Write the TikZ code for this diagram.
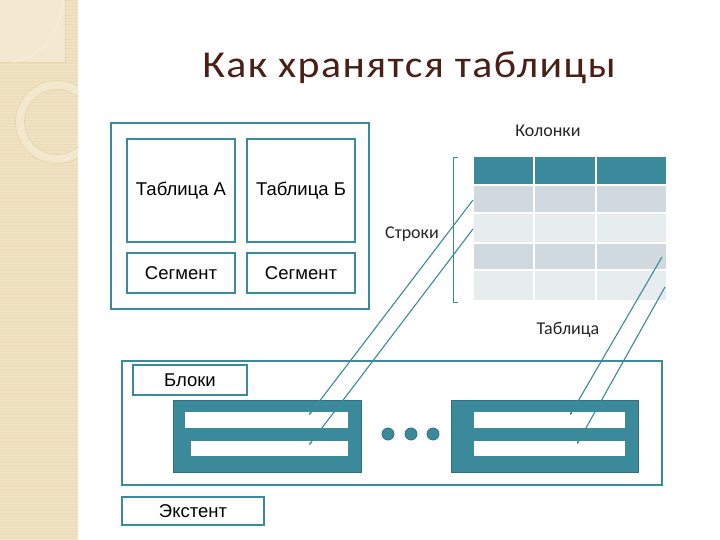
\documentclass[tikz,border=0pt]{standalone}
\usepackage{fontspec}
\setmainfont{Carlito}
\newfontfamily\arialf{Liberation Sans}
\newfontfamily\titlef[LetterSpace=3.5]{Carlito}
\usetikzlibrary{arrows.meta}
\definecolor{teal1}{HTML}{3B8A9C}
\definecolor{tealdark}{HTML}{2F7284}
\definecolor{beige}{HTML}{EFE3C3}
\definecolor{beigelight}{HTML}{F5ECD6}
\definecolor{beigeedge}{HTML}{E4D5AE}
\definecolor{titlec}{HTML}{4A1F16}
\definecolor{rowdark}{HTML}{CFD9DF}
\definecolor{rowlight}{HTML}{E7ECEF}
\tikzset{
  frame/.style={draw=teal1, line width=1.6pt, fill=white, inner sep=0pt},
  lbl/.style={font=\arialf\fontsize{18.5}{20}\selectfont, text=black},
  note/.style={font=\fontsize{18}{20}\selectfont, text=black!85},
  blk/.style={draw=tealdark, line width=1pt, fill=teal1},
  strip/.style={fill=white, draw=none},
  link/.style={draw=teal1, line width=1.1pt, -{Stealth[length=3pt,width=2.5pt]}},
  dotc/.style={circle, fill=teal1, draw=tealdark, line width=0.8pt, minimum size=12pt, inner sep=0pt}
}
\begin{document}
\begin{tikzpicture}[x=1pt,y=-1pt]
\useasboundingbox (0,0) rectangle (720,540);
\fill[white] (0,0) rectangle (720,540);
% left decorative strip
\fill[beige] (0,0) rectangle (78,540);
\foreach \yy in {0,3,...,540} {\draw[beigeedge!50!beige, line width=0.6pt] (0,\yy) -- (78,\yy);}
\fill[beigelight!70!beige] (0,0) rectangle (65,62);
\draw[beigeedge, line width=0.8pt] (0,62) -- (65,62) -- (65,0);
\draw[white!40!beige, line width=1.2pt] (63,0) .. controls (60,35) and (40,58) .. (13,62);
\begin{scope}
\clip (0,0) rectangle (78,540);
\draw[beigelight!55!beige, line width=9pt] (57,122) circle (37);
\draw[beigeedge, line width=0.7pt] (57,122) circle (41.5);
\draw[beigeedge, line width=0.7pt] (57,122) circle (32.5);
\end{scope}
% title
\node[font=\titlef\fontsize{38}{40}\selectfont, text=titlec] (title) at (409,68) {\scalebox{1.1}[1]{Как хранятся таблицы}};
% upper left frame
\node[frame, minimum width=258pt, minimum height=186pt] (outer) at (240,216) {};
\node[frame, minimum width=108pt, minimum height=103pt, lbl] (ta) at (181,190.5) {Таблица А};
\node[frame, minimum width=108pt, minimum height=103pt, lbl] (tb) at (301,190.5) {Таблица Б};
\node[frame, minimum width=108pt, minimum height=40pt, lbl] (sa) at (181,273) {Сегмент};
\node[frame, minimum width=108pt, minimum height=40pt, lbl] (sb) at (301,273) {Сегмент};
% table graphic
\fill[teal1] (474,157) rectangle (666,184);
\fill[rowdark] (474,186) rectangle (666,213);
\fill[rowlight] (474,213) rectangle (666,243);
\fill[rowdark] (474,243) rectangle (666,270);
\fill[rowlight] (474,270) rectangle (666,300);
\draw[white, line width=1.2pt] (474,213) -- (666,213) (474,243) -- (666,243) (474,270) -- (666,270);
\draw[white, line width=1.5pt] (534,157) -- (534,300) (596,157) -- (596,300);
\draw[teal1, line width=0.9pt] (458,157) -- (453,157) -- (453,302) -- (458,302);
\node[note] (kol) at (548,131) {Колонки};
\node[note] (str) at (412,234) {Строки};
\node[note] (tab) at (568,330) {Таблица};
% bottom frame
\node[frame, minimum width=540pt, minimum height=124pt] (bottom) at (392,423) {};
\node[frame, minimum width=114pt, minimum height=30pt, lbl] (bl) at (190,380) {Блоки};
\node[frame, minimum width=142pt, minimum height=28pt, lbl] (ext) at (193,511) {Экстент};
% block 1
\node[blk, minimum width=188pt, minimum height=72pt, inner sep=0pt] (b1) at (267,436) {};
\fill[strip] (185,412) rectangle (348,428);
\fill[strip] (191,441) rectangle (348,456);
% block 2
\node[blk, minimum width=187pt, minimum height=72pt, inner sep=0pt] (b2) at (544.5,436) {};
\fill[strip] (474,412) rectangle (625,428);
\fill[strip] (474,441) rectangle (625,456);
% dots
\node[dotc] (d1) at (388,434) {};
\node[dotc] (d2) at (411,434) {};
\node[dotc] (d3) at (433,434) {};
% connectors
\coordinate (r1s) at (473,200);
\coordinate (r2s) at (473,229);
\coordinate (r1e) at (309,415);
\coordinate (r2e) at (309,445);
\coordinate (r3s) at (662,257);
\coordinate (r4s) at (665,287);
\coordinate (r3e) at (570,415);
\coordinate (r4e) at (577,444);
\draw[link] (r1s) -- (r1e);
\draw[link] (r2s) -- (r2e);
\draw[link] (r3s) -- (r3e);
\draw[link] (r4s) -- (r4e);
\end{tikzpicture}
\end{document}
